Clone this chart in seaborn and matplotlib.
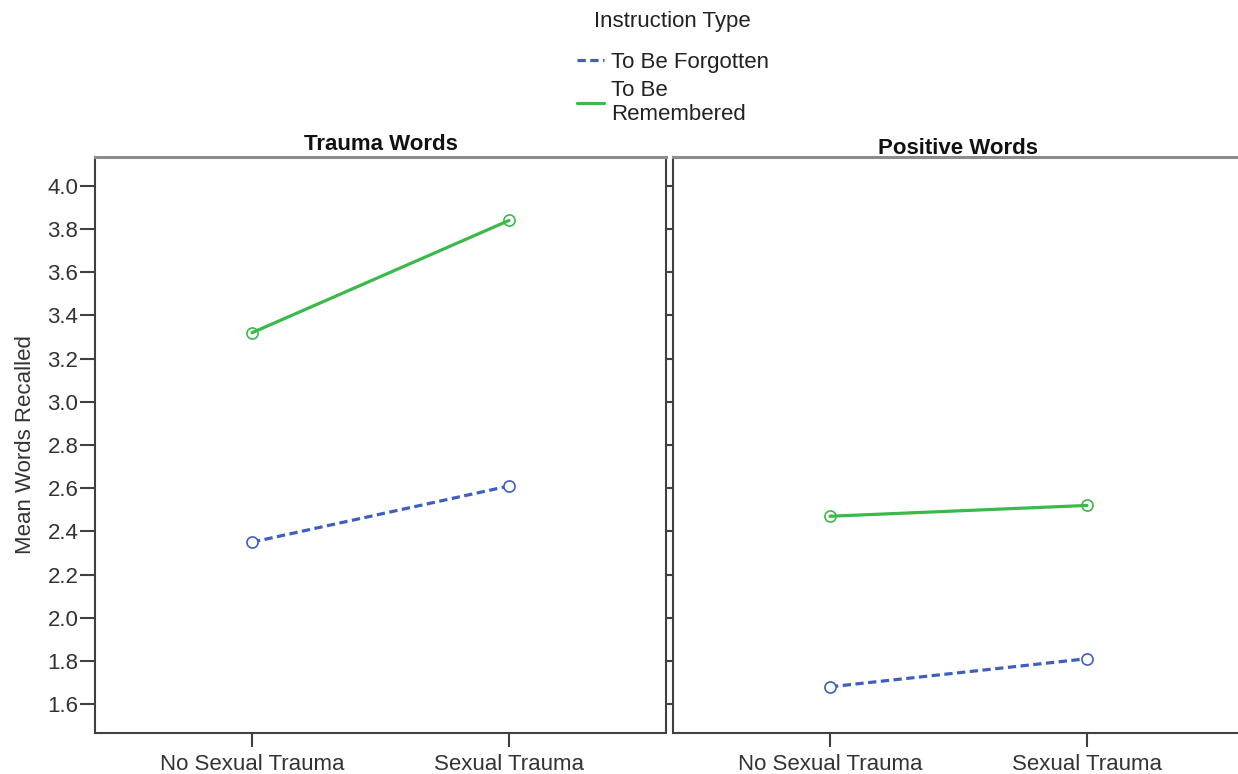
import matplotlib
matplotlib.use("Agg")
import matplotlib.pyplot as plt
from matplotlib.lines import Line2D
import pandas as pd
import seaborn as sns

# Group means (words recalled) by trauma history and instruction type
trauma_groups = ["No Sexual Trauma", "Sexual Trauma"]
instructions = ["To Be Forgotten", "To Be Remembered"]
panel_titles = ["Trauma Words", "Positive Words"]

trauma_forgotten = [2.35, 2.61]
trauma_remembered = [3.32, 3.84]
positive_forgotten = [1.68, 1.81]
positive_remembered = [2.47, 2.52]

y_ticks = [1.6, 1.8, 2.0, 2.2, 2.4, 2.6, 2.8, 3.0, 3.2, 3.4, 3.6, 3.8, 4.0]

rows = []
for title, forg, rem in [
    ("Trauma Words", trauma_forgotten, trauma_remembered),
    ("Positive Words", positive_forgotten, positive_remembered),
]:
    for g, f, r in zip(trauma_groups, forg, rem):
        rows.append({"word_type": title, "group": g, "instruction": "To Be Forgotten", "mean": f})
        rows.append({"word_type": title, "group": g, "instruction": "To Be Remembered", "mean": r})
df = pd.DataFrame(rows)

sns.set_theme(style="white")
plt.rcParams["font.family"] = ["Liberation Sans", "DejaVu Sans"]

BLUE = "#3F5FBF"
GREEN = "#3BB94A"
palette = {"To Be Forgotten": BLUE, "To Be Remembered": GREEN}
DASH = (0, (2.6, 1.4))
SPINE = "#404040"
TEXT = "#333333"

fig = plt.figure(figsize=(12.38, 7.74), dpi=100)
W, H = 1238, 774
ax_w = 571 / W
ax_h = 576 / H
ax_b = (H - 733) / H
axes = [
    fig.add_axes([95 / W, ax_b, ax_w, ax_h]),
    fig.add_axes([673 / W, ax_b, ax_w, ax_h]),
]

for i, (ax, title) in enumerate(zip(axes, panel_titles)):
    sub = df[df["word_type"] == title]
    sns.pointplot(
        data=sub, x="group", y="mean", hue="instruction",
        order=trauma_groups, hue_order=instructions, palette=palette,
        markers=["o", "o"], linestyles=["--", "-"], errorbar=None,
        dodge=False, legend=False, ax=ax,
    )
    for line in ax.lines:
        col = matplotlib.colors.to_hex(line.get_color()).lower()
        line.set_linewidth(2.3)
        line.set_markersize(8)
        line.set_markeredgewidth(1.2)
        if col == BLUE.lower():
            line.set_linestyle(DASH)
            line.set_markerfacecolor("white")
        else:
            line.set_markerfacecolor("none")
    ax.set_xlim(-0.611, 1.611)
    ax.set_ylim(1.466, 4.134)
    ax.set_yticks(y_ticks)
    ax.set_xlabel("")
    ax.set_ylabel("")
    for side, sp in ax.spines.items():
        sp.set_visible(True)
        sp.set_color(SPINE)
        sp.set_linewidth(1.5)
    ax.spines["top"].set_color("#8c8c8c")
    ax.spines["top"].set_linewidth(2.2)
    ax.tick_params(axis="both", which="both", direction="out", color=SPINE,
                   width=1.5, labelsize=16, labelcolor=TEXT)
    ax.tick_params(axis="x", length=10, pad=5, bottom=True)
    if i == 0:
        ax.tick_params(axis="y", length=11, pad=1, left=True)
        ax.set_ylabel("Mean Words Recalled", fontsize=16, color=TEXT)
        ax.yaxis.set_label_coords(-0.103, 0.5)
        ax.set_title(title, fontsize=16, fontweight="bold", color="#111111", pad=5)
    else:
        ax.tick_params(axis="y", length=5, left=True, labelleft=False)
        ax.set_title(title, fontsize=16, fontweight="bold", color="#111111", pad=2)

# Legend for instruction type, with its heading set above the entries
fig.text(672 / W, 1 - 21 / H, "Instruction Type", ha="center", va="center",
         fontsize=16, color="#222222")
handles = [
    Line2D([], [], color=BLUE, lw=2.3, linestyle=DASH),
    Line2D([], [], color=GREEN, lw=2.3),
]
leg = fig.legend(
    handles, ["To Be Forgotten", "To Be\nRemembered"],
    loc="upper center", bbox_to_anchor=(673 / W, 1 - 36 / H), frameon=False,
    fontsize=16, handlelength=1.2, handletextpad=0.3, labelspacing=0.35,
    borderpad=0.2,
)
for t in leg.get_texts():
    t.set_color("#222222")
    t.set_linespacing(1.15)

fig.savefig("out.png", dpi=100)
